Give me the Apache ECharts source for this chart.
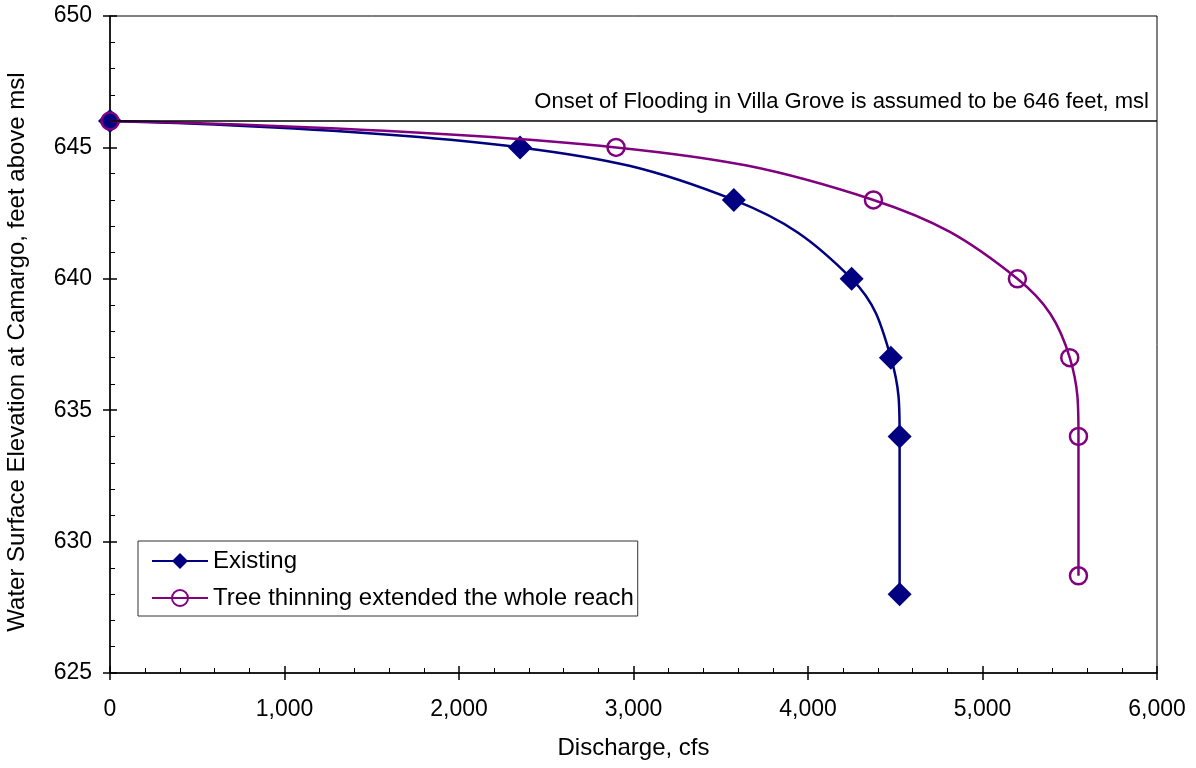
<!DOCTYPE html>
<html>
<head>
<meta charset="utf-8">
<script src="https://cdn.jsdelivr.net/npm/echarts@6/dist/echarts.min.js"></script>
<style>
  html, body { margin: 0; padding: 0; background: #fff; }
  #chart { width: 1196px; height: 768px; }
</style>
</head>
<body>
<div id="chart"></div>
<script>
// Rating curves: water surface elevation vs. discharge
const existingQ = [0, 2350, 3575, 4250, 4475, 4525, 4525];
const existingWSE = [646, 645, 643, 640, 637, 634, 628];
const thinningQ = [0, 2900, 4375, 5200, 5500, 5550, 5550];
const thinningWSE = [646, 645, 643, 640, 637, 634, 628.7];
const floodStage = 646;
const floodLabel = 'Onset of Flooding in Villa Grove is assumed to be 646 feet, msl';
const seriesNames = ['Existing', 'Tree thinning extended the whole reach'];

const pairs = (xs, ys) => xs.map((x, i) => [x, ys[i]]);
const FONT = 'Liberation Sans, Arial, sans-serif';

const chart = echarts.init(document.getElementById('chart'), null, { renderer: 'canvas' });

const baseX = {
  type: 'value', min: 0, max: 6000, interval: 1000,
  splitLine: { show: false }
};
const baseY = {
  type: 'value', min: 625, max: 650, interval: 5,
  splitLine: { show: false }
};

chart.setOption({
  backgroundColor: '#fff',
  animation: false,
  grid: {
    left: 110, right: 39, top: 16, bottom: 95,
    outerBoundsMode: 'none', containLabel: false,
    show: true, borderColor: '#000', borderWidth: 1, backgroundColor: 'transparent'
  },
  legend: {
    orient: 'vertical', left: 138, top: 541,
    backgroundColor: '#fff', borderColor: '#333', borderWidth: 1,
    padding: [8, 4, 6, 13],
    itemWidth: 56, itemHeight: 20, itemGap: 13,
    textStyle: { fontFamily: FONT, fontSize: 24, color: '#000', padding: [0, 0, 0, 0] },
    data: seriesNames
  },
  xAxis: [
    Object.assign({}, baseX, {
      position: 'bottom',
      name: 'Discharge, cfs', nameLocation: 'middle', nameGap: 63,
      nameTextStyle: { fontFamily: FONT, fontSize: 24, color: '#000' },
      axisLine: { show: true, lineStyle: { color: '#000', width: 1.5 } },
      axisTick: { show: true, inside: false, length: 7, lineStyle: { color: '#000', width: 1.5 } },
      axisLabel: {
        fontFamily: FONT, fontSize: 23, color: '#000', margin: 25,
        formatter: v => v.toLocaleString('en-US')
      }
    }),
    Object.assign({}, baseX, {
      position: 'bottom', offset: 0,
      axisLine: { show: false },
      axisTick: { show: true, inside: true, length: 7, lineStyle: { color: '#000', width: 1.5 } },
      minorTick: { show: true, splitNumber: 5, length: 5, lineStyle: { color: '#000', width: 1 } },
      axisLabel: { show: false }
    })
  ],
  yAxis: [
    Object.assign({}, baseY, {
      position: 'left',
      name: 'Water Surface Elevation at Camargo, feet above msl',
      nameLocation: 'middle', nameGap: 81, nameRotate: 90,
      nameTextStyle: { fontFamily: FONT, fontSize: 24, color: '#000', padding: [0, 15, 0, 0] },
      axisLine: { show: true, lineStyle: { color: '#000', width: 1.5 } },
      axisTick: { show: true, inside: false, length: 7, lineStyle: { color: '#000', width: 1.5 } },
      axisLabel: { fontFamily: FONT, fontSize: 23, color: '#000', margin: 18 }
    }),
    Object.assign({}, baseY, {
      position: 'left', offset: 0,
      axisLine: { show: false },
      axisTick: { show: true, inside: true, length: 7, lineStyle: { color: '#000', width: 1.5 } },
      minorTick: { show: true, splitNumber: 5, length: 5, lineStyle: { color: '#000', width: 1 } },
      axisLabel: { show: false }
    })
  ],
  series: [
    {
      name: seriesNames[0], type: 'line', xAxisIndex: 0, yAxisIndex: 0,
      data: pairs(existingQ, existingWSE),
      smooth: 0.4,
      symbol: 'diamond', symbolSize: 24,
      lineStyle: { color: '#000080', width: 2.5 },
      itemStyle: { color: '#000080', borderColor: '#000080', borderWidth: 0 },
      z: 3,
      markLine: {
        silent: true, symbol: 'none', animation: false,
        lineStyle: { color: '#000', width: 1.5, type: 'solid' },
        label: {
          show: true, position: 'insideEndTop', distance: [8, 8],
          formatter: floodLabel,
          fontFamily: FONT, fontSize: 22, color: '#000'
        },
        data: [{ yAxis: floodStage }]
      }
    },
    {
      name: seriesNames[1], type: 'line', xAxisIndex: 0, yAxisIndex: 0,
      data: pairs(thinningQ, thinningWSE),
      smooth: 0.4,
      symbol: 'circle', symbolSize: 17,
      lineStyle: { color: '#800080', width: 2.5 },
      itemStyle: { color: 'rgba(255,255,255,0)', borderColor: '#800080', borderWidth: 2.5 },
      z: 4
    }
  ]
});
</script>
</body>
</html>
